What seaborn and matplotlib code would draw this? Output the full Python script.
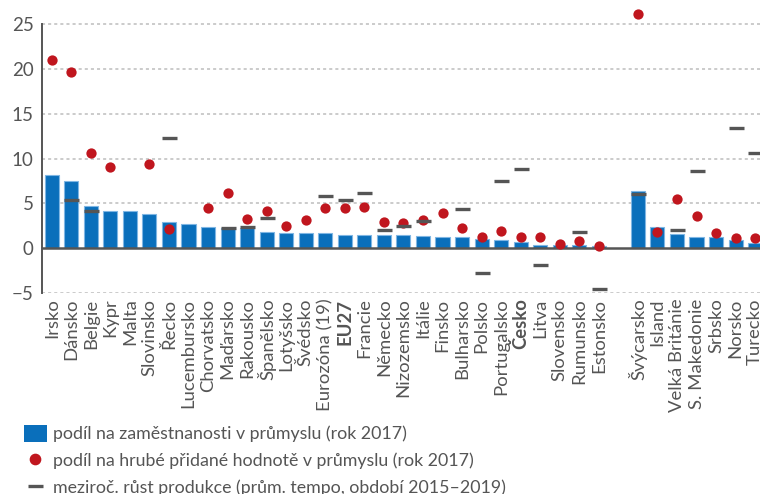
import numpy as np
import pandas as pd
import matplotlib
matplotlib.use("Agg")
import matplotlib.pyplot as plt
import seaborn as sns
from matplotlib.patches import Patch
from matplotlib.lines import Line2D

# EU countries (sorted by employment share), then non-EU group
eu_countries = ["Irsko", "Dánsko", "Belgie", "Kypr", "Malta", "Slovinsko", "Řecko",
                "Lucembursko", "Chorvatsko", "Maďarsko", "Rakousko", "Španělsko",
                "Lotyšsko", "Švédsko", "Eurozóna (19)", "EU27", "Francie", "Německo",
                "Nizozemsko", "Itálie", "Finsko", "Bulharsko", "Polsko", "Portugalsko",
                "Česko", "Litva", "Slovensko", "Rumunsko", "Estonsko"]
other_countries = ["Švýcarsko", "Island", "Velká Británie", "S. Makedonie",
                   "Srbsko", "Norsko", "Turecko"]

employment_eu = [8.2, 7.55, 4.7, 4.2, 4.2, 3.87, 2.9, 2.7, 2.38, 2.27, 2.22, 1.86,
                 1.71, 1.71, 1.71, 1.52, 1.52, 1.52, 1.52, 1.38, 1.23, 1.23, 1.04,
                 0.86, 0.7, 0.41, 0.41, 0.4, 0.26]
employment_other = [6.36, 2.38, 1.56, 1.23, 1.23, 0.89, 0.6]

gva_eu = [21.0, 19.7, 10.6, 9.1, np.nan, 9.45, 2.15, np.nan, 4.5, 6.14, 3.31, 4.13,
          2.46, 3.13, 4.46, 4.46, 4.65, 2.94, 2.79, 3.13, 3.98, 2.31, 1.3, 1.97,
          1.3, 1.3, 0.45, 0.82, 0.3]
gva_other = [26.1, 1.82, 5.47, 3.64, 1.67, 1.15, 1.15]

growth_eu = [np.nan, 5.43, 4.2, np.nan, np.nan, np.nan, 12.35, np.nan, np.nan, 2.2,
             2.42, 3.42, np.nan, np.nan, 5.88, 5.43, 6.21, 2.08, 2.53, 3.09, np.nan,
             4.43, -2.72, 7.55, 8.89, -1.93, np.nan, 1.86, -4.6]
growth_other = [6.0, np.nan, 2.08, 8.67, np.nan, 13.36, 10.68]

bold_labels = ["EU27", "Česko"]

df = pd.DataFrame({
    "country": eu_countries + other_countries,
    "employment": employment_eu + employment_other,
    "gva": gva_eu + gva_other,
    "growth": growth_eu + growth_other,
})
order = eu_countries + [" "] + other_countries

BLUE = "#0a6fbb"
RED = "#c0161e"
DASH = "#555555"
TXT = "#555555"

sns.set_theme(style="white")
plt.rcParams["font.family"] = ["Lato", "DejaVu Sans"]

fig = plt.figure(figsize=(7.6, 4.94), dpi=100)
ax = fig.add_axes([42 / 760, 1 - 293 / 494, 1 - 42 / 760, 293 / 494])

sns.barplot(data=df, x="country", y="employment", order=order, color=BLUE,
            width=0.72, edgecolor="#7fb6e3", linewidth=0.8, saturation=1, ax=ax)
sns.stripplot(data=df, x="country", y="gva", order=order, color=RED, jitter=False,
              size=7.4, linewidth=0, ax=ax, zorder=4)
sns.stripplot(data=df, x="country", y="growth", order=order, color=DASH, jitter=False,
              marker="_", size=10.8, linewidth=2.4, edgecolor=DASH, ax=ax, zorder=5)

ax.set_ylim(-5, 27.7)
ax.set_xlim(-0.5, 36.25)
ax.set_yticks([-5, 0, 5, 10, 15, 20, 25])
ax.set_yticklabels(["\u22125", "0", "5", "10", "15", "20", "25"])
for yv in [-5, 5, 10, 15, 20, 25]:
    ax.axhline(yv, color="#bdbdbd", lw=1.1, ls=(0, (2, 2)), zorder=0)
ax.axhline(0, color="#555555", lw=1.8, zorder=3)

for s in ["top", "right", "bottom"]:
    ax.spines[s].set_visible(False)
ax.spines["left"].set_color("#555555")
ax.spines["left"].set_linewidth(1.4)
ax.spines["left"].set_bounds(-5, 25)

ax.set_xlabel("")
ax.set_ylabel("")
ax.tick_params(axis="y", length=0, labelsize=13.5, labelcolor=TXT, pad=6)
ax.tick_params(axis="x", length=0, labelsize=13.3, labelcolor=TXT, pad=4)
for lab in ax.get_xticklabels():
    lab.set_rotation(90)
    lab.set_va("top")
    if lab.get_text() in bold_labels:
        lab.set_fontweight("bold")

handles = [
    Patch(facecolor=BLUE, edgecolor="none"),
    Line2D([], [], marker="o", color=RED, ls="none", markersize=7.4),
    Line2D([], [], marker="_", color=DASH, ls="none", markersize=10.8, mew=2.4),
]
labels = ["podíl na zaměstnanosti v průmyslu (rok 2017)",
          "podíl na hrubé přidané hodnotě v průmyslu (rok 2017)",
          "meziroč. růst produkce (prům. tempo, období 2015\u20132019)"]
fig.legend(handles, labels, loc="upper left", bbox_to_anchor=(15 / 760, 1 - 416 / 494),
           frameon=False, fontsize=12.8, labelcolor=TXT, handlelength=1.3,
           handleheight=1.1, handletextpad=0.35, labelspacing=0.52, borderpad=0)

fig.savefig("out.png", dpi=100)
